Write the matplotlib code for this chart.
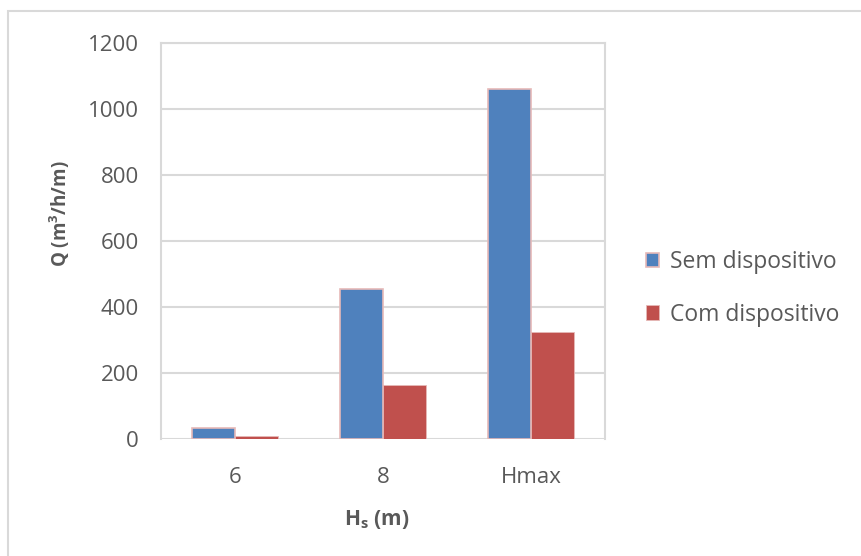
import matplotlib
matplotlib.use("Agg")
import matplotlib.pyplot as plt
from matplotlib.patches import Rectangle
import numpy as np

categories = ["6", "8", "Hmax"]
sem_dispositivo = [32, 455, 1062]
com_dispositivo = [8, 164, 324]
y_ticks = [0, 200, 400, 600, 800, 1000, 1200]

plt.rcParams["font.family"] = ["Open Sans", "DejaVu Sans"]
text_color = "#595959"
grid_color = "#D9D9D9"

W, H = 862, 556
fig = plt.figure(figsize=(W / 100, H / 100), dpi=100)

# outer chart frame
fig.patches.append(Rectangle((8 / W, -0.1), 1.2, 1 - 11 / H + 0.1,
                             transform=fig.transFigure, fill=False,
                             edgecolor=grid_color, linewidth=1.5))

ax = fig.add_axes([161 / W, 1 - 439 / H, (605 - 161) / W, (439 - 43) / H])

x = np.arange(len(categories))
bw = 0.29
ax.bar(x - bw / 2, sem_dispositivo, bw, color="#4F81BD",
       edgecolor="#E6B9B8", linewidth=1.2, label="Sem dispositivo", zorder=3)
ax.bar(x + bw / 2, com_dispositivo, bw, color="#C0504D",
       edgecolor="#E6B9B8", linewidth=0.6, label="Com dispositivo", zorder=3)

ax.set_xlim(-0.5, 2.5)
ax.set_ylim(0, 1200)
ax.set_yticks(y_ticks)
ax.set_xticks(x)
ax.set_xticklabels(categories)
ax.yaxis.grid(True, color=grid_color, linewidth=1.5, zorder=0)
ax.tick_params(length=0, labelsize=16, colors=text_color)
ax.tick_params(axis="y", pad=16)
ax.tick_params(axis="x", pad=20)
for s in ax.spines.values():
    s.set_color(grid_color)
    s.set_linewidth(1.5)
ax.spines["bottom"].set_visible(False)

ax.set_ylabel("Q (m$^\\mathregular{3}$/h/m)", fontsize=13.5, fontweight="bold",
              color=text_color)
ax.yaxis.set_label_coords(-0.2, 0.57)
ax.set_xlabel("H$_\\mathregular{s}$ (m)", fontsize=15, fontweight="bold",
              color=text_color)
ax.xaxis.set_label_coords(0.485, -0.175)

leg = ax.legend(loc="center left", bbox_to_anchor=(1.045, 0.38), frameon=False,
                fontsize=16.5, labelcolor=text_color, handlelength=0.6,
                handleheight=0.6, handletextpad=0.45, labelspacing=1.25)

fig.savefig("out.png", dpi=100)
